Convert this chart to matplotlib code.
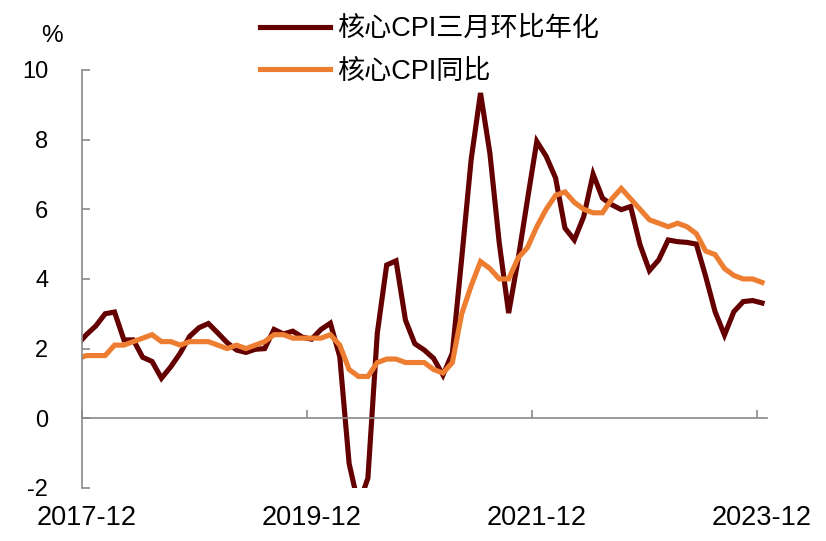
import numpy as np
import matplotlib
matplotlib.use('Agg')
import matplotlib.pyplot as plt

plt.rcParams['font.family'] = ['Liberation Sans', 'Noto Sans CJK SC']
plt.rcParams['axes.unicode_minus'] = False

# monthly data, 2017-11 .. 2023-12 (first month is cut off by the axis)
months = ['2017-11'] + [f'{y}-{m:02d}' for y in range(2018, 2024) for m in range(1, 13)]
months.insert(1, '2017-12')

core_3m_ann = [2.1, 2.4,
               2.65, 3.0, 3.05, 2.25, 2.25, 1.75, 1.63, 1.15, 1.48, 1.87, 2.35, 2.6,
               2.72, 2.45, 2.17, 1.96, 1.89, 1.98, 2.0, 2.55, 2.42, 2.5, 2.33, 2.27,
               2.55, 2.73, 1.77, -1.3, -2.5, -1.72, 2.44, 4.4, 4.52, 2.82, 2.14, 1.96,
               1.72, 1.24, 1.87, 4.6, 7.42, 9.34, 7.61, 5.03, 3.02, 4.55, 6.27, 7.95,
               7.52, 6.9, 5.46, 5.12, 5.79, 7.01, 6.32, 6.13, 5.99, 6.08, 4.98, 4.24,
               4.55, 5.12, 5.07, 5.05, 5.0, 4.07, 3.06, 2.39, 3.06, 3.35, 3.38, 3.31]

core_yoy = [1.7, 1.8,
            1.8, 1.8, 2.1, 2.1, 2.2, 2.3, 2.4, 2.2, 2.2, 2.1, 2.2, 2.2,
            2.2, 2.1, 2.0, 2.1, 2.0, 2.1, 2.2, 2.4, 2.4, 2.3, 2.3, 2.3,
            2.3, 2.4, 2.1, 1.4, 1.2, 1.2, 1.6, 1.7, 1.7, 1.6, 1.6, 1.6,
            1.4, 1.3, 1.6, 3.0, 3.8, 4.5, 4.3, 4.0, 4.0, 4.6, 4.9, 5.5,
            6.0, 6.4, 6.5, 6.2, 6.0, 5.9, 5.9, 6.3, 6.6, 6.3, 6.0, 5.7,
            5.6, 5.5, 5.6, 5.5, 5.3, 4.8, 4.7, 4.3, 4.1, 4.0, 4.0, 3.9]

tick_labels = ['2017-12', '2019-12', '2021-12', '2023-12']

# points sit in the middle of each month slot, 2017-12 slot starts at 0
x = np.arange(len(months)) - 0.5
tick_pos = [months.index(t) - 1 for t in tick_labels]

fig = plt.figure(figsize=(8.26, 5.41), dpi=100)
ax = fig.add_axes([81.7 / 826, 1 - 487.9 / 541, 685 / 826, 417.9 / 541])

ax.plot(x, core_3m_ann, color='#640000', lw=3.7, label='核心CPI三月环比年化',
        solid_joinstyle='miter')
ax.plot(x, core_yoy, color='#ED7D31', lw=3.7, label='核心CPI同比',
        solid_joinstyle='miter')

ax.set_xlim(0, 73)
ax.set_ylim(-2, 10)
ax.set_yticks(np.arange(-2, 11, 2))

gray = '#898989'
for s in ['top', 'right']:
    ax.spines[s].set_visible(False)
ax.spines['left'].set_color(gray)
ax.spines['left'].set_linewidth(1.2)
ax.spines['bottom'].set_color(gray)
ax.spines['bottom'].set_linewidth(1.2)
ax.spines['bottom'].set_position(('data', 0))

ax.set_xticks(tick_pos)
ax.tick_params(axis='x', direction='in', length=5.8, width=1.2, color=gray,
               labelbottom=False)
ax.tick_params(axis='y', direction='in', length=5.8, width=1.2, color=gray,
               labelsize=17, pad=24)

# date labels along the bottom edge, centred on the month slot
sec = ax.secondary_xaxis('bottom')
sec.spines['bottom'].set_visible(False)
sec.set_xticks([p + 0.5 for p in tick_pos], labels=tick_labels)
sec.tick_params(length=0, labelsize=19.5, pad=12)

fig.text(52 / 826, 1 - 36 / 541, '%', ha='center', va='center', fontsize=17.5)

ax.legend(loc='upper left', bbox_to_anchor=(260 / 826, 1 - 16 / 541),
          bbox_transform=fig.transFigure, frameon=False, fontsize=19.5,
          handlelength=2.6, handletextpad=0.25, labelspacing=0.62,
          borderpad=0, borderaxespad=0)

fig.savefig('out.png', dpi=100, facecolor='white')
